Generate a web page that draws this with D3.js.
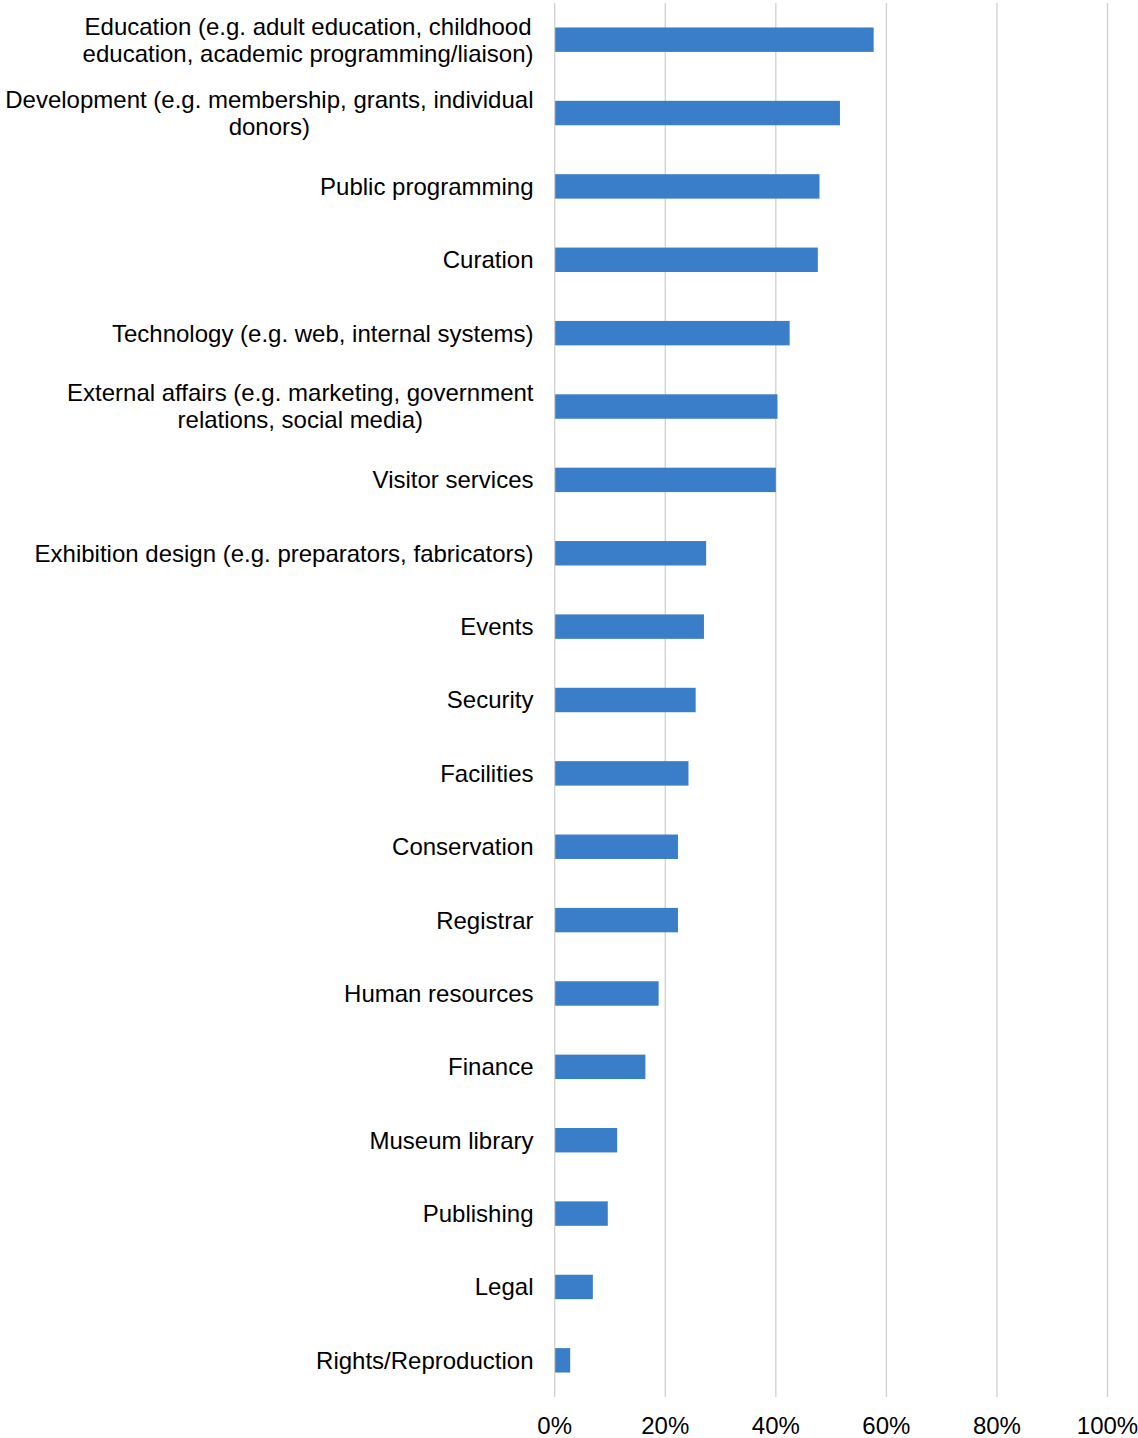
<!DOCTYPE html>
<html>
<head>
<meta charset="utf-8">
<script src="https://cdn.jsdelivr.net/npm/d3@7/dist/d3.min.js"></script>
<style>
  html, body { margin: 0; padding: 0; background: #ffffff; }
  svg { display: block; }
  text { font-family: "Liberation Sans", Arial, sans-serif; fill: #000000; }
</style>
</head>
<body>
<svg id="chart" width="1138" height="1438"></svg>
<script>
// Museum departments (line breaks marked with \n), top to bottom
const categories = [
  "Education (e.g. adult education, childhood\neducation, academic programming/liaison)",
  "Development (e.g. membership, grants, individual\ndonors)",
  "Public programming",
  "Curation",
  "Technology (e.g. web, internal systems)",
  "External affairs (e.g. marketing, government\nrelations, social media)",
  "Visitor services",
  "Exhibition design (e.g. preparators, fabricators)",
  "Events",
  "Security",
  "Facilities",
  "Conservation",
  "Registrar",
  "Human resources",
  "Finance",
  "Museum library",
  "Publishing",
  "Legal",
  "Rights/Reproduction"
];

// Share of respondents, percent
const values = [57.7, 51.6, 47.9, 47.6, 42.5, 40.3, 40.0, 27.4, 27.0, 25.5, 24.2, 22.3, 22.3, 18.8, 16.4, 11.3, 9.6, 6.9, 2.8];

const tickValues = [0, 20, 40, 60, 80, 100];
const tickLabels = ["0%", "20%", "40%", "60%", "80%", "100%"];

const svg = d3.select("#chart");
const plot = { left: 554.7, right: 1107.5, top: 3, bottom: 1397 };
const fontSize = 24;

const x = d3.scaleLinear().domain([0, 100]).range([plot.left, plot.right]);
const y = d3.scaleBand()
  .domain(categories)
  .range([plot.top, plot.bottom])
  .paddingInner(0.667)
  .paddingOuter(0.3335);

// Vertical gridlines
svg.append("g")
  .selectAll("line")
  .data(tickValues)
  .join("line")
  .attr("x1", d => x(d))
  .attr("x2", d => x(d))
  .attr("y1", plot.top)
  .attr("y2", plot.bottom)
  .attr("stroke", "#d0d0d0")
  .attr("stroke-width", 1.3);

// Bars
svg.append("g")
  .selectAll("rect")
  .data(categories)
  .join("rect")
  .attr("x", x(0) + 0.5)
  .attr("y", d => y(d))
  .attr("width", (d, i) => x(values[i]) - x(0) - 0.5)
  .attr("height", y.bandwidth())
  .attr("fill", "#3a7dc9");

// Category labels: lines centred on each other, block right-aligned
const labelRight = 533.5;
const lineGap = 27;
const labels = svg.append("g")
  .selectAll("text")
  .data(categories)
  .join("text")
  .attr("font-size", fontSize)
  .attr("text-anchor", "middle");

labels.each(function (d) {
  const t = d3.select(this);
  const lines = d.split("\n");
  const cy = y(d) + y.bandwidth() / 2;
  const first = cy - (lines.length - 1) * lineGap / 2;
  const spans = lines.map((ln, k) =>
    t.append("tspan")
      .attr("y", first + k * lineGap)
      .attr("dy", "0.35em")
      .text(ln));
  const maxW = d3.max(spans, s => s.node().getComputedTextLength());
  spans.forEach(s => s.attr("x", labelRight - maxW / 2));
});

// Tick labels
svg.append("g")
  .selectAll("text")
  .data(tickValues)
  .join("text")
  .attr("x", d => x(d))
  .attr("y", 1434)
  .attr("font-size", fontSize)
  .attr("text-anchor", "middle")
  .text((d, i) => tickLabels[i]);
</script>
</body>
</html>
